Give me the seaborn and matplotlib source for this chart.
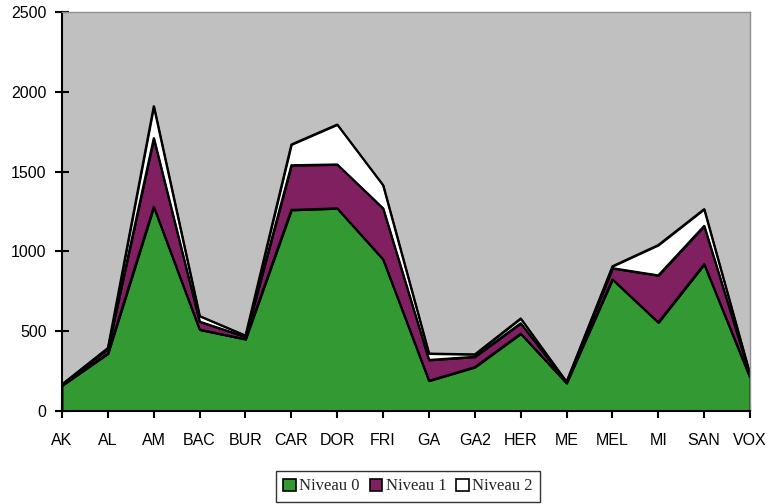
import matplotlib
matplotlib.use("Agg")
import matplotlib.pyplot as plt
from matplotlib.patches import Patch
import seaborn as sns
import pandas as pd
import numpy as np

categories = ["AK", "AL", "AM", "BAC", "BUR", "CAR", "DOR", "FRI", "GA", "GA2",
              "HER", "ME", "MEL", "MI", "SAN", "VOX"]
niveau0 = [160, 360, 1280, 510, 450, 1260, 1270, 950, 190, 275, 485, 175, 825, 555, 920, 210]
niveau1 = [5, 30, 430, 50, 15, 280, 275, 320, 130, 65, 65, 5, 70, 295, 240, 15]
niveau2 = [2, 5, 200, 35, 8, 130, 250, 145, 40, 15, 30, 3, 12, 190, 105, 5]
series_names = ["Niveau 0", "Niveau 1", "Niveau 2"]
colors = ["#339933", "#802060", "#FFFFFF"]

df = pd.DataFrame({"cat": categories, "Niveau 0": niveau0,
                   "Niveau 1": niveau1, "Niveau 2": niveau2})
df["pos"] = np.arange(len(categories))

sns.set_style("ticks")
plt.rcParams["font.family"] = ["Liberation Sans", "DejaVu Sans"]

fig = plt.figure(figsize=(7.73, 5.04), dpi=100)
ax = fig.add_axes([62 / 773, 1 - 411 / 504, (750 - 62) / 773, (411 - 12) / 504])
ax.set_facecolor("#C0C0C0")

ax.stackplot(df["pos"], df["Niveau 0"], df["Niveau 1"], df["Niveau 2"],
             colors=colors, edgecolor="black", linewidth=1.4)

# outline the top of each stacked layer
cum = df[series_names].cumsum(axis=1)
for name in series_names:
    sns.lineplot(x=df["pos"], y=cum[name], ax=ax, color="black", linewidth=1.5,
                 legend=False)

ax.set_xlim(0, len(categories) - 1)
ax.set_ylim(0, 2500)
ax.set_xticks(df["pos"])
ax.set_xticklabels(categories)
ax.set_yticks(range(0, 2501, 500))
ax.set_xlabel("")
ax.set_ylabel("")
ax.tick_params(axis="both", direction="inout", length=10, width=1.5,
               labelsize=11.5, colors="black")
ax.tick_params(axis="x", pad=11)
ax.tick_params(axis="y", pad=6)

for side in ["left", "bottom"]:
    ax.spines[side].set_color("black")
    ax.spines[side].set_linewidth(1.5)
for side in ["top", "right"]:
    ax.spines[side].set_visible(True)
    ax.spines[side].set_color("#909090")
    ax.spines[side].set_linewidth(1.0)

handles = [Patch(facecolor=c, edgecolor="black", linewidth=1.2, label=n)
           for c, n in zip(colors, series_names)]
leg = fig.legend(handles=handles, loc="upper center", bbox_to_anchor=(408 / 773, 1 - 471 / 504),
                 ncol=3, frameon=True, fancybox=False, handlelength=0.75, handleheight=0.75,
                 handletextpad=0.2, columnspacing=0.6, borderpad=0.45, borderaxespad=0,
                 prop={"family": "Liberation Serif", "size": 12})
leg.get_frame().set_edgecolor("black")
leg.get_frame().set_linewidth(1.0)

fig.savefig("out.png", dpi=100)
